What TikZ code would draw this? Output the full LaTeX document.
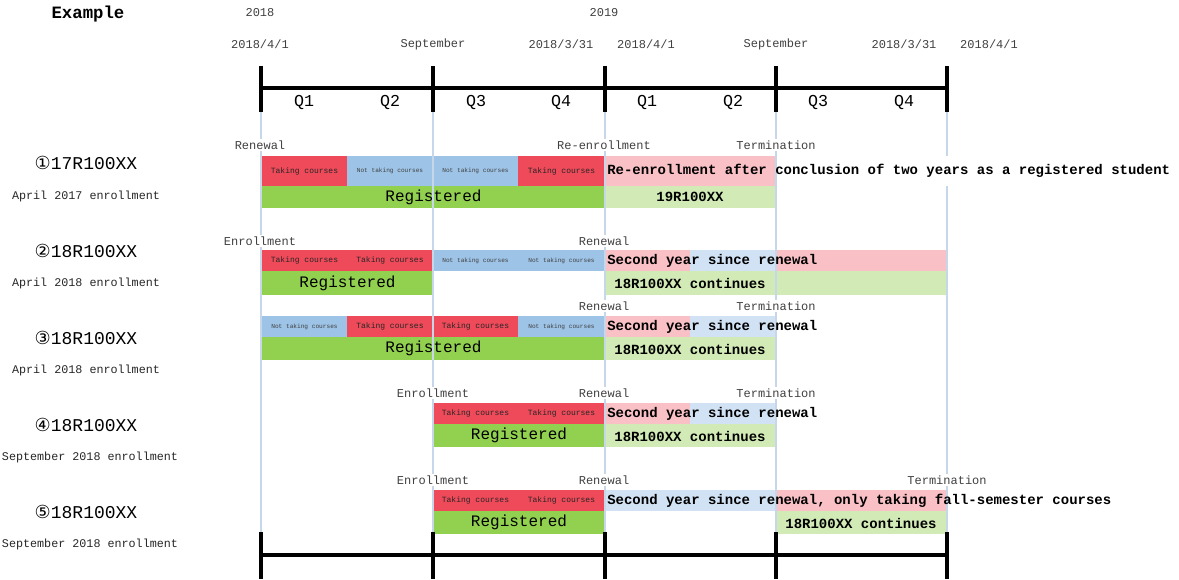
\documentclass[tikz,border=0pt]{standalone}
\usepackage{fontspec}
\setmainfont{Liberation Mono}
\newfontfamily\circfont{DejaVu Sans}
\definecolor{cred}{HTML}{EE4A5A}
\definecolor{cblue}{HTML}{9DC3E6}
\definecolor{cgreen}{HTML}{92D050}
\definecolor{clgreen}{HTML}{D2EBB6}
\definecolor{cpink}{HTML}{F9C1C6}
\definecolor{clblue}{HTML}{D0E2F3}
\definecolor{cgrid}{HTML}{C6D7EA}
\pgfdeclarelayer{bg}
\pgfsetlayers{bg,main}
\newcommand\cellbox[7]{\begin{pgfonlayer}{bg}\fill[#5] (#1,#2) rectangle (#3,#4);\end{pgfonlayer} \node[#6] at ({(#1+#3)/2},{(#2+#4)/2}) {#7};}
\newcommand\cellfill[5]{\begin{pgfonlayer}{bg}\fill[#5] (#1,#2) rectangle (#3,#4);\end{pgfonlayer}}
\begin{document}
\begin{tikzpicture}[x=0.75pt,y=-0.75pt,
  lbl/.style={font=\fontsize{9}{10}\selectfont, text=black!75, inner sep=1pt},
  evt/.style={font=\fontsize{9}{10}\selectfont, text=black!75, inner sep=1pt, fill=white},
  qlbl/.style={font=\fontsize{12.5}{14}\selectfont, inner sep=0pt},
  bld/.style={font=\bfseries\fontsize{10.5}{12}\selectfont, inner sep=0pt},
  take/.style={font=\fontsize{6}{7}\selectfont, text=black!85, inner sep=0pt},
  nott/.style={font=\fontsize{4.6}{5}\selectfont, text=black!75, inner sep=0pt},
  reg/.style={font=\fontsize{12}{14}\selectfont, inner sep=0pt},
  idl/.style={font=\fontsize{13.5}{15}\selectfont, inner sep=0pt},
  enl/.style={font=\fontsize{8.8}{10}\selectfont, text=black!85, inner sep=0pt},
  tl/.style={line width=2.5pt, black},
  tk/.style={line width=3.2pt, black},
  grid/.style={line width=1.6pt, cgrid}]
\useasboundingbox (0,0) rectangle (1179,579);

% grid lines (above cell fills, below texts)
\foreach \x in {261,433,605,776,947} \draw[grid] (\x,112) -- (\x,532);

% header
\node[font=\bfseries\fontsize{13}{15}\selectfont] (ex) at (88,14) {Example};
\node[lbl] (y18) at (260,13) {2018};
\node[lbl] (y19) at (604,13) {2019};
\node[lbl] (d1) at (260,44) {2018/4/1};
\node[lbl] (d2) at (433,44) {September};
\node[lbl] (d3) at (561,44) {2018/3/31};
\node[lbl] (d4) at (646,44) {2018/4/1};
\node[lbl] (d5) at (776,44) {September};
\node[lbl] (d6) at (904,44) {2018/3/31};
\node[lbl] (d7) at (989,44) {2018/4/1};

% top timeline
\draw[tl] (261,88) -- (947,88);
\foreach \x in {261,433,605,776,947} \draw[tk] (\x,66) -- (\x,112);
\node[qlbl] (q1) at (304,102) {Q1};
\node[qlbl] (q2) at (390,102) {Q2};
\node[qlbl] (q3) at (476,102) {Q3};
\node[qlbl] (q4) at (561,102) {Q4};
\node[qlbl] (q5) at (647,102) {Q1};
\node[qlbl] (q6) at (733,102) {Q2};
\node[qlbl] (q7) at (818,102) {Q3};
\node[qlbl] (q8) at (904,102) {Q4};

% bottom timeline
\draw[tl] (261,555) -- (947,555);
\foreach \x in {261,433,605,776,947} \draw[tk] (\x,532) -- (\x,579);

% ---- cells ----
% row 1
\cellbox{262}{156}{347}{186}{cred}{take,name=r1a}{Taking courses}
\cellbox{347}{156}{433}{186}{cblue}{nott,name=r1b}{Not taking courses}
\cellbox{433}{156}{518}{186}{cblue}{nott,name=r1c}{Not taking courses}
\cellbox{518}{156}{605}{186}{cred}{take,name=r1d}{Taking courses}
\cellfill{605}{156}{776}{186}{cpink}
\cellbox{262}{186}{605}{208}{cgreen}{reg,name=r1g}{Registered}
\cellfill{605}{186}{776}{208}{clgreen}
% row 2
\cellbox{262}{250}{347}{271}{cred}{take,name=r2a}{Taking courses}
\cellbox{347}{250}{433}{271}{cred}{take,name=r2b}{Taking courses}
\cellbox{433}{250}{518}{271}{cblue}{nott,name=r2c}{Not taking courses}
\cellbox{518}{250}{605}{271}{cblue}{nott,name=r2d}{Not taking courses}
\cellfill{605}{250}{690}{271}{cpink}
\cellfill{690}{250}{776}{271}{clblue}
\cellfill{776}{250}{947}{271}{cpink}
\cellbox{262}{271}{433}{295}{cgreen}{reg,name=r2g}{Registered}
\cellfill{605}{271}{947}{295}{clgreen}
% row 3
\cellbox{262}{316}{347}{337}{cblue}{nott,name=r3a}{Not taking courses}
\cellbox{347}{316}{433}{337}{cred}{take,name=r3b}{Taking courses}
\cellbox{433}{316}{518}{337}{cred}{take,name=r3c}{Taking courses}
\cellbox{518}{316}{605}{337}{cblue}{nott,name=r3d}{Not taking courses}
\cellfill{605}{316}{690}{337}{cpink}
\cellfill{690}{316}{776}{337}{clblue}
\cellbox{262}{337}{605}{360}{cgreen}{reg,name=r3g}{Registered}
\cellfill{605}{337}{776}{360}{clgreen}
% row 4
\cellbox{433}{403}{518}{424}{cred}{take,name=r4a}{Taking courses}
\cellbox{518}{403}{605}{424}{cred}{take,name=r4b}{Taking courses}
\cellfill{605}{403}{690}{424}{cpink}
\cellfill{690}{403}{776}{424}{clblue}
\cellbox{433}{424}{605}{447}{cgreen}{reg,name=r4g}{Registered}
\cellfill{605}{424}{776}{447}{clgreen}
% row 5
\cellbox{433}{490}{518}{511}{cred}{take,name=r5a}{Taking courses}
\cellbox{518}{490}{605}{511}{cred}{take,name=r5b}{Taking courses}
\cellfill{605}{490}{776}{511}{clblue}
\cellfill{776}{490}{947}{511}{cpink}
\cellbox{433}{511}{605}{534}{cgreen}{reg,name=r5g}{Registered}
\cellfill{776}{511}{947}{534}{clgreen}

% white overflow areas
\fill[white] (778,156) rectangle (1179,186);
\fill[white] (948.5,490) rectangle (1179,511);

% bold texts
\node[bld,anchor=west] (t1) at (607,171) {Re-enrollment after conclusion of two years as a registered student};
\node[bld] (t1b) at (690,197) {19R100XX};
\node[bld,anchor=west] (t2) at (607,261) {Second year since renewal};
\node[bld] (t2b) at (690,283) {18R100XX continues};
\node[bld,anchor=west] (t3) at (607,327) {Second year since renewal};
\node[bld] (t3b) at (690,349) {18R100XX continues};
\node[bld,anchor=west] (t4) at (607,414) {Second year since renewal};
\node[bld] (t4b) at (690,436) {18R100XX continues};
\node[bld,anchor=west] (t5) at (607,501) {Second year since renewal, only taking fall-semester courses};
\node[bld] (t5b) at (861,523) {18R100XX continues};

% event labels
\node[evt] (e1a) at (260,145) {Renewal};
\node[evt] (e1b) at (604,145) {Re-enrollment};
\node[evt] (e1c) at (776,145) {Termination};
\node[evt] (e2a) at (260,241) {Enrollment};
\node[evt] (e2b) at (604,241) {Renewal};
\node[evt] (e3a) at (604,306) {Renewal};
\node[evt] (e3b) at (776,306) {Termination};
\node[evt] (e4a) at (433,393) {Enrollment};
\node[evt] (e4b) at (604,393) {Renewal};
\node[evt] (e4c) at (776,393) {Termination};
\node[evt] (e5a) at (433,480) {Enrollment};
\node[evt] (e5b) at (604,480) {Renewal};
\node[evt] (e5c) at (947,480) {Termination};

% left labels
\node[idl] (id1) at (86,163) {{\circfont ①}17R100XX};
\node[enl] (en1) at (86,196) {April 2017 enrollment};
\node[idl] (id2) at (86,251) {{\circfont ②}18R100XX};
\node[enl] (en2) at (86,283) {April 2018 enrollment};
\node[idl] (id3) at (86,338) {{\circfont ③}18R100XX};
\node[enl] (en3) at (86,370) {April 2018 enrollment};
\node[idl] (id4) at (86,425) {{\circfont ④}18R100XX};
\node[enl] (en4) at (90,457) {September 2018 enrollment};
\node[idl] (id5) at (86,512) {{\circfont ⑤}18R100XX};
\node[enl] (en5) at (90,544) {September 2018 enrollment};
\end{tikzpicture}
\end{document}
